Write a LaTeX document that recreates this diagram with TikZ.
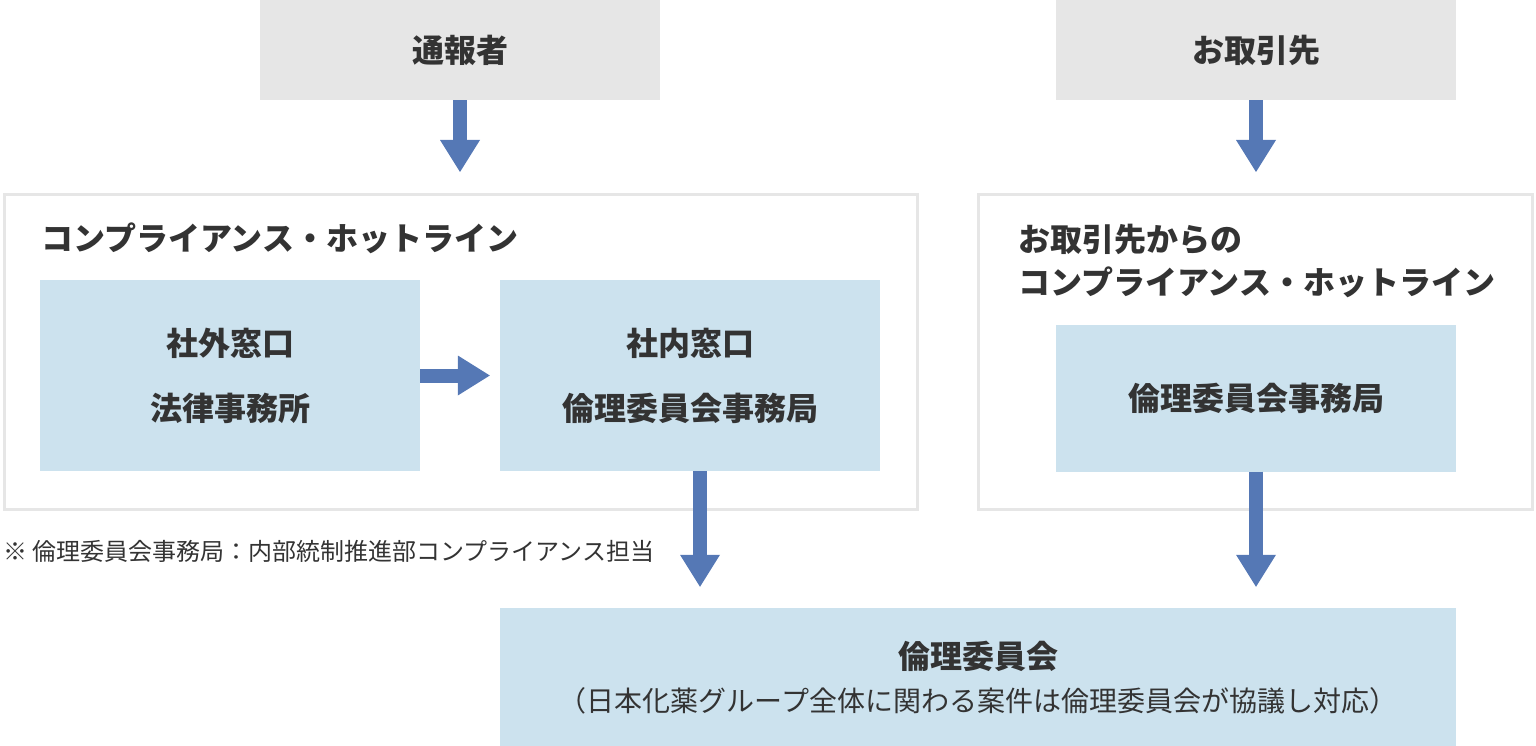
\documentclass[tikz,border=0pt]{standalone}
\usepackage{fontspec}
\setmainfont{Noto Sans CJK JP}
\usepackage{xcolor}
\usetikzlibrary{arrows.meta,positioning}

\definecolor{boxgray}{RGB}{230,230,230}
\definecolor{boxblue}{RGB}{204,226,238}
\definecolor{arrowblue}{RGB}{85,120,181}
\definecolor{textdark}{RGB}{51,51,51}

\tikzset{
  graybox/.style={fill=boxgray,minimum width=400pt,minimum height=100pt,inner sep=0pt},
  bluebox/.style={fill=boxblue,inner sep=0pt,align=center},
  frame/.style={draw=boxgray,line width=3pt,inner sep=0pt},
  flowarrow/.style={draw=arrowblue,line width=14pt,
    -{Triangle[width=40pt,length=32pt,line width=0pt]}},
  headfont/.style={font=\fontsize{32}{65}\selectfont\bfseries,text=textdark},
}

\begin{document}
\begin{tikzpicture}[x=1pt,y=-1pt]
\useasboundingbox (0,0) rectangle (1536,746);
% ---------- top row ----------
\node[graybox,headfont] (reporter) at (460,50) {通報者};
\node[graybox,headfont] (partner) at (1256,50) {お取引先};
% ---------- left frame: hotline ----------
\node[frame,minimum width=913pt,minimum height=315pt] (hotline) at (460.5,352) {};
\node[headfont,anchor=west,inner sep=0pt] (hotlinetitle) at (41,238) {コンプライアンス・ホットライン};
\node[bluebox,headfont,minimum width=380pt,minimum height=191pt] (outside) at (230,375.5)
  {社外窓口\\法律事務所};
\node[bluebox,headfont,minimum width=380pt,minimum height=191pt] (inside) at (690,375.5)
  {社内窓口\\倫理委員会事務局};
% ---------- right frame: partner hotline ----------
\node[frame,minimum width=554pt,minimum height=315pt] (partnerline) at (1255.5,352) {};
\node[font=\fontsize{32}{43}\selectfont\bfseries,text=textdark,anchor=west,align=left,inner sep=0pt]
  (partnertitle) at (1018,261) {お取引先からの\\コンプライアンス・ホットライン};
\node[bluebox,headfont,minimum width=400pt,minimum height=147pt] (secretariat) at (1256,398)
  {倫理委員会事務局};
% ---------- note ----------
\node[anchor=west,inner sep=0pt,font=\fontsize{24}{28}\selectfont,text=textdark] (note) at (3,551)
  {※ 倫理委員会事務局：内部統制推進部コンプライアンス担当};
% ---------- bottom: committee ----------
\node[bluebox,minimum width=956pt,minimum height=140pt,text=textdark,
  font=\fontsize{28}{43}\selectfont] (committee) at (978,678)
  {{\fontsize{32}{43}\selectfont\bfseries 倫理委員会}\\
   （日本化薬グループ全体に関わる案件は倫理委員会が協議し対応）};
% ---------- arrows ----------
\coordinate (insideout) at ([xshift=10pt]inside.south);
\draw[flowarrow,shorten >=21pt] (reporter.south) -- (hotline.north -| reporter.south);
\draw[flowarrow,shorten >=21pt] (partner.south) -- (partnerline.north -| partner.south);
\draw[flowarrow,shorten >=10pt] (outside.east) -- (inside.west);
\draw[flowarrow,shorten >=21pt] (insideout) -- (committee.north -| insideout);
\draw[flowarrow,shorten >=21pt] (secretariat.south) -- (committee.north -| secretariat.south);
\end{tikzpicture}
\end{document}
